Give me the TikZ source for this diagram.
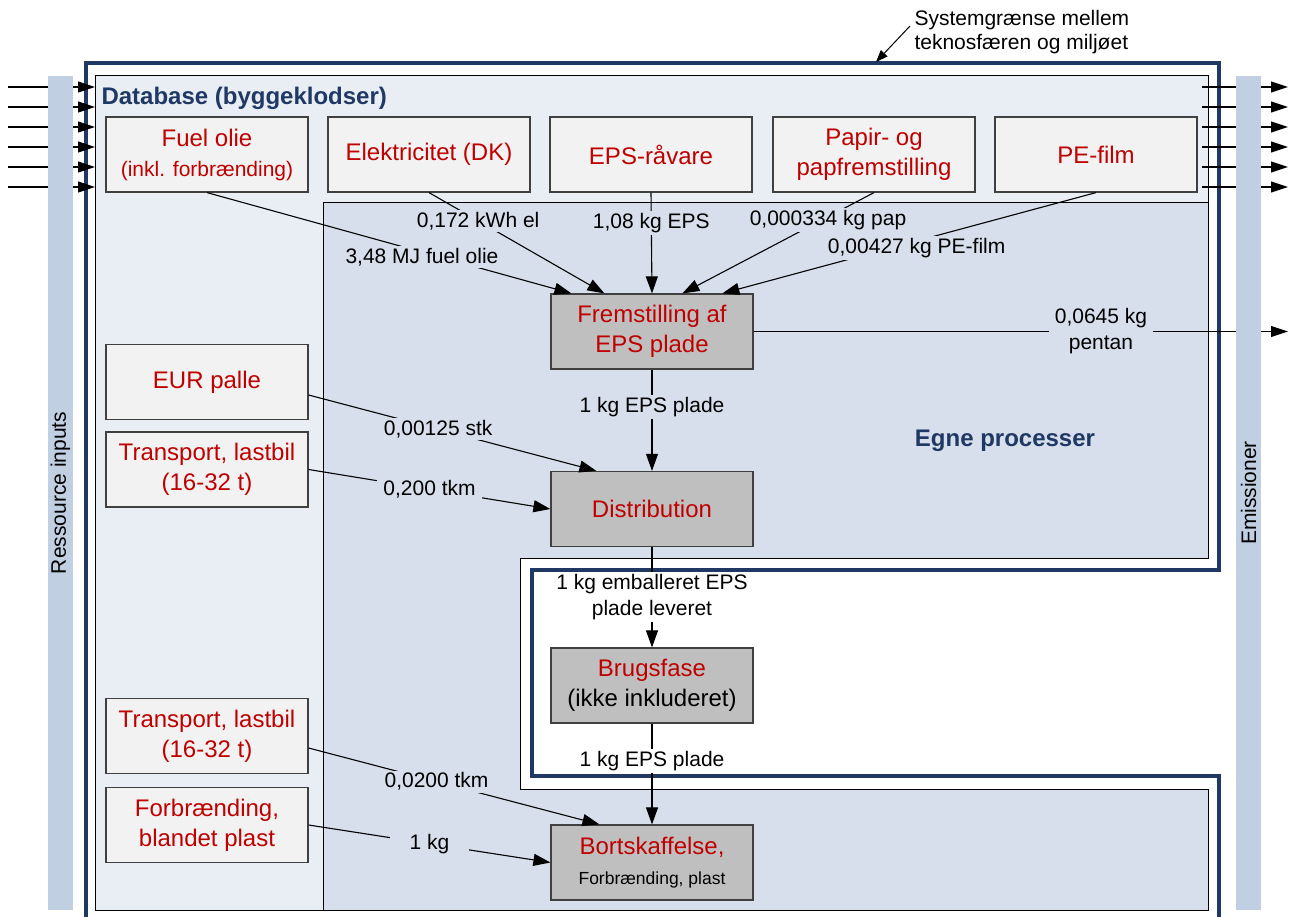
\documentclass[tikz,border=0pt]{standalone}
\usepackage{fontspec}
\setmainfont{Liberation Sans}
\usepackage{tikz}
\usetikzlibrary{arrows.meta,calc}

\definecolor{sysblue}{RGB}{31,56,100}
\definecolor{dbfill}{RGB}{233,238,245}
\definecolor{egnefill}{RGB}{214,223,235}
\definecolor{barfill}{RGB}{192,207,226}
\definecolor{procred}{RGB}{192,0,0}
\def\Fbig{\fontsize{24}{30}\selectfont}
\def\Flab{\fontsize{21}{26}\selectfont}
\def\Fsmall{\fontsize{17.5}{21}\selectfont}

\begin{document}
\begin{tikzpicture}[x=1pt,y=-1pt,
	dbbox/.style={draw=black!75,fill=black!5,line width=1.2pt,minimum width=202pt,minimum height=75pt,align=center,text=procred,font=\Fbig},
	procbox/.style={dbbox,fill=black!25},
	lbl/.style={font=\Flab,align=center,inner ysep=2pt,inner xsep=6pt,fill=egnefill},
	flow/.style={line width=1.1pt,-{Triangle[length=17pt,width=12pt]}},
	stub/.style={line width=1.1pt,-{Triangle[length=17pt,width=11pt]}}]

\useasboundingbox (0,0) rectangle (1293,917);

% database and own processes
\draw[fill=dbfill,line width=1pt] (95,76) rectangle (1208,910);
\fill[white] (520,558) rectangle (1216,789);
\draw[fill=egnefill,line width=1pt] (323,203) -- (1208,203) -- (1208,558) -- (520,558) -- (520,789) -- (1208,789) -- (1208,910) -- (323,910) -- cycle;

\node[anchor=west,text=sysblue,font={\Fbig\bfseries}] (dbtitle) at (98,98) {Database (byggeklodser)};
\node[text=sysblue,font={\Fbig\bfseries}] (egne) at (1005,441) {Egne processer};

% system boundary
\draw[sysblue,line width=4pt] (86,925) -- (86,63) -- (1219,63) -- (1219,570) -- (532,570) -- (532,776) -- (1219,776) -- (1219,925);

\node[anchor=west,font=\fontsize{21}{24}\selectfont,align=left] (sys) at (911,32) {Systemgrænse mellem\\teknosfæren og miljøet};
\coordinate (systip) at (876,62);
\draw[line width=1pt,-{Triangle[length=12pt,width=9pt]}] ([xshift=-1pt,yshift=6pt]sys.west) -- (systip);

% inputs and emissions
\foreach \y [count=\i] in {87,107,127,147,167,187}{
	\coordinate (in\i) at (8,\y);
	\coordinate (db\i) at (95,\y);
	\draw[stub] (in\i) -- (db\i);
	\coordinate (dbo\i) at (1202,\y);
	\coordinate (out\i) at (1288,\y);
	\draw[stub] (dbo\i) -- (out\i);
}

% building blocks
\node[dbbox] (fuel) at (207,154.5) {Fuel olie\\{\Flab(inkl. forbrænding)}};
\node[dbbox] (el) at (429,154.5) {Elektricitet (DK)};
\node[dbbox] (eps) at (651,154.5) {EPS-råvare};
\node[dbbox] (pap) at (874,154.5) {Papir- og\\papfremstilling};
\node[dbbox] (pe) at (1096,154.5) {PE-film};
\node[dbbox] (eur) at (207,382) {EUR palle};
\node[dbbox] (lastA) at (207,469.5) {Transport, lastbil\\(16-32 t)};
\node[dbbox] (lastB) at (207,736) {Transport, lastbil\\(16-32 t)};
\node[dbbox] (forbr) at (207,825) {Forbrænding,\\blandet plast};

% own processes
\node[procbox] (frem) at (652,331.5) {Fremstilling af\\EPS plade};
\node[procbox] (dist) at (652,509) {Distribution};
\node[procbox] (brug) at (652,685.5) {Brugsfase\\\textcolor{black}{(ikke inkluderet)}};
\node[procbox] (bort) at (652,862.5) {Bortskaffelse,\\{\Fsmall\color{black}Forbrænding, plast}};

% flows
\draw[flow] (fuel.south) -- node[lbl,pos=0.59,yshift=-5pt]{3,48 MJ fuel olie} ([xshift=21pt]frem.north west);
\draw[flow] (el.south) -- node[lbl,pos=0.28]{0,172 kWh el} ([xshift=54pt]frem.north west);
\draw[flow] (eps.south) -- node[lbl,pos=0.3]{1,08 kg EPS} (frem.north);
\draw[flow] (pap.south) -- node[lbl,pos=0.24,yshift=-3pt]{0,000334 kg pap} ([xshift=132pt]frem.north west);
\draw[flow] (pe.south) -- node[lbl,pos=0.48,yshift=-7pt]{0,00427 kg PE-film} ([xshift=172pt]frem.north west);

\coordinate (pentan) at (1288,331.5);
\draw[stub] (frem.east) -- node[lbl,pos=0.65]{0,0645 kg\\pentan} (pentan);

\draw[flow] (frem.south) -- node[lbl,pos=0.37]{1 kg EPS plade} (dist.north);
\draw[flow] ([yshift=-13pt]eur.east) -- node[lbl,pos=0.45]{0,00125 stk} ([xshift=46pt]dist.north west);
\draw[flow] (lastA.east) -- node[lbl,pos=0.5]{0,200 tkm} (dist.west);
\draw[flow] (dist.south) -- node[lbl,fill=white,pos=0.5]{1 kg emballeret EPS\\plade leveret} (brug.north);
\draw[flow] (brug.south) -- node[lbl,fill=white,pos=0.37]{1 kg EPS plade} (bort.north);
\draw[flow] ([yshift=-12pt]lastB.east) -- node[lbl,pos=0.44]{0,0200 tkm} ([xshift=49pt]bort.north west);
\draw[flow] (forbr.east) -- node[lbl,pos=0.5,inner xsep=20pt]{1 kg} (bort.west);

% side bars
\fill[barfill] (48,76) rectangle (73,910);
\node[rotate=90,font=\Flab] (res) at (60.5,493) {Ressource inputs};
\fill[barfill] (1236,76) rectangle (1261,910);
\node[rotate=90,font=\Flab] (emi) at (1248.5,493) {Emissioner};

\end{tikzpicture}
\end{document}
